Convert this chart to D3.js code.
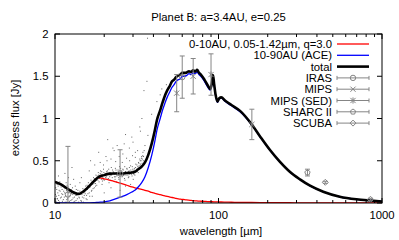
<!DOCTYPE html>
<html><head><meta charset="utf-8">
<script src="https://cdn.jsdelivr.net/npm/d3@7/dist/d3.min.js"></script>
<style>
html,body{margin:0;padding:0;background:#fff;}
svg{display:block;font-family:"Liberation Sans",Arial,Helvetica,sans-serif;}
</style></head>
<body><svg id="c" width="399" height="240"></svg>
<script>
// ---- data ----
const title = "Planet B: a=3.4AU, e=0.25";
const xLabel = "wavelength [\u00b5m]";
const yLabel = "excess flux [Jy]";
const xTicks = [10, 100, 1000];
const yTicks = [0, 0.5, 1, 1.5, 2];
const yTickLabels = ["0", "0.5", "1", "1.5", "2"];

const lam = [10, 11, 12, 13, 13.9, 15, 16, 17.2, 18.4, 20, 21.2, 22.7, 25.6, 27.5, 29.5, 30.8, 32.3, 33.9, 35.5, 37.2, 39, 40.9, 42, 44, 45.5, 47, 48.5, 50.5, 52, 53.5, 55, 56.8, 58.5, 60, 62, 64, 66, 68, 70, 72, 74, 76, 78, 82, 86, 89, 91, 92.5, 94, 96, 98.5, 101, 104, 110, 120, 135.5, 159, 180, 206, 237, 273, 315, 363, 437, 552, 697, 887, 1000];
const fluxInner = [0.25, 0.215, 0.165, 0.125, 0.107, 0.14, 0.19, 0.25, 0.30, 0.285, 0.275, 0.26, 0.23, 0.21, 0.19, 0.18, 0.17, 0.16, 0.15, 0.14, 0.125, 0.115, 0.108, 0.098, 0.09, 0.085, 0.078, 0.07, 0.065, 0.06, 0.055, 0.05, 0.046, 0.043, 0.04, 0.036, 0.033, 0.03, 0.028, 0.026, 0.024, 0.022, 0.021, 0.019, 0.017, 0.016, 0.015, 0.015, 0.014, 0.014, 0.013, 0.012, 0.012, 0.011, 0.009, 0.007, 0.006, 0.005, 0.004, 0.003, 0.003, 0.002, 0.002, 0.001, 0.001, 0.0005, 0.0003, 0.0002];
const fluxACE = [0, 0, 0, 0, 0, 0, 0.001, 0.003, 0.008, 0.014, 0.022, 0.04, 0.075, 0.1, 0.13, 0.15, 0.19, 0.24, 0.31, 0.42, 0.56, 0.74, 0.86, 1.0, 1.1, 1.18, 1.25, 1.32, 1.37, 1.40, 1.44, 1.46, 1.47, 1.5, 1.5, 1.51, 1.53, 1.52, 1.54, 1.53, 1.55, 1.52, 1.50, 1.44, 1.37, 1.335, 1.40, 1.5, 1.40, 1.27, 1.19, 1.23, 1.24, 1.2, 1.15, 1.08, 0.93, 0.78, 0.625, 0.487, 0.367, 0.278, 0.203, 0.133, 0.074, 0.0435, 0.027, 0.018];
const fluxTotal = [0.25, 0.215, 0.165, 0.125, 0.107, 0.14, 0.19, 0.253, 0.305, 0.33, 0.345, 0.35, 0.35, 0.355, 0.36, 0.37, 0.40, 0.43, 0.48, 0.57, 0.70, 0.87, 0.98, 1.10, 1.19, 1.27, 1.33, 1.39, 1.44, 1.46, 1.49, 1.51, 1.52, 1.54, 1.54, 1.545, 1.56, 1.55, 1.57, 1.555, 1.575, 1.54, 1.52, 1.46, 1.39, 1.35, 1.415, 1.515, 1.41, 1.28, 1.20, 1.24, 1.25, 1.21, 1.16, 1.09, 0.935, 0.785, 0.63, 0.49, 0.37, 0.28, 0.205, 0.134, 0.075, 0.044, 0.027, 0.018];

// IRS spectrum samples (wavelength, flux)
const specLam = [10.1,10.2,10.3,10.4,10.5,10.6,10.7,10.8,10.9,11.0,11.1,11.2,11.3,11.4,11.5,11.6,11.7,11.8,11.9,12.0,12.2,12.3,12.5,12.6,12.8,12.9,13.1,13.2,13.4,13.5,13.7,13.9,14.0,14.2,14.4,14.6,14.8,15.0,15.2,15.4,15.6,15.8,16.0,16.2,16.4,16.6,16.8,17.0,17.2,17.4,17.6,17.8,18.0,18.2,18.4,18.6,18.8,19.0,19.2,19.4,19.6,19.8,20.0,20.3,20.6,20.9,21.2,21.5,21.8,22.1,22.4,22.7,23.0,23.3,23.6,23.9,24.2,24.5,24.8,25.1,25.4,25.7,26.0,26.3,26.6,26.9,27.2,27.5,27.8,28.1,28.4,28.7,29.0,29.3,29.6,29.9,30.2,30.5,30.8,31.1,31.4,31.7,32.0,32.3,32.6,32.9,33.2,33.5,33.8,34.1,34.4,34.7,
  11.5,12.7,14.5,16.5,18.5,20.5,21,23,24,26,27,28.5,30,31,33,35.5,37,39,42,44,45,48,20,22,25,27,29,13,10.5,35,36.5,36.8,34,33.3,10.3,11.8,12.4,13.3,14.9,15.7,16.9,19.5,21.7,23.4,24.6,26.2,28.3,30.4,31.9,19.1,22.9,25.9,28.9,17.7,15.3,
  10.05,10.15,10.25,10.35,10.45,10.55,10.65,10.75,10.85,10.95,11.05,11.15,11.25,11.35,11.45,11.55,11.65,11.75,11.85,11.95,12.1,12.25,12.4,12.55,12.7,12.85,13.0,13.15,13.3,13.45,13.6,13.8,13.95,14.1,14.3,14.5,14.7,14.9,
  15.1,15.3,15.5,15.7,15.9,16.1,16.3,16.5,16.7,16.9,17.1,17.3,17.5,17.7,17.9,18.1,
  18.3,18.5,18.7,18.9,19.1,19.3,19.5,19.7,19.9,20.1,20.4,20.7,21.0,21.3,21.6,21.9,22.2,22.5,22.8,23.1,23.4,23.7,24.0,24.3,24.6,24.9,25.2,25.5,25.8,26.1,26.4,26.7,27.0,27.3,27.6,27.9,28.2,28.5,28.8,29.1,29.4,29.7,30.0,30.3,30.6,30.9,31.2,31.5,31.8,32.1,32.4,32.7,33.0,33.3,33.6,33.9,34.2,34.5,34.8,35.1,
  18.9,19.8,20.8,22.0,23.5,24.7,25.8,27.4,28.6,29.8,31.0,32.0,19.4,21.4,23.8,26.8,30.1,22.6,26.5,29.5,17.5,16.2,14.2,12.1];
const specFlux = [0.18,0.08,0.22,0.12,0.03,0.15,0.25,0.06,0.19,0.11,0.02,0.21,0.14,0.07,0.17,0.09,0.24,0.04,0.13,0.19,0.08,0.15,0.03,0.11,0.18,0.06,0.13,0.02,0.09,0.16,0.05,0.12,0.07,0.14,0.03,0.10,0.17,0.06,0.13,0.20,0.09,0.16,0.24,0.12,0.19,0.27,0.15,0.22,0.30,0.18,0.26,0.33,0.21,0.29,0.36,0.25,0.31,0.38,0.28,0.34,0.30,0.40,0.27,0.35,0.31,0.38,0.29,0.36,0.33,0.42,0.30,0.37,0.34,0.28,0.39,0.32,0.36,0.30,0.43,0.34,0.38,0.31,0.40,0.35,0.29,0.37,0.33,0.41,0.36,0.30,0.38,0.34,0.44,0.37,0.32,0.40,0.35,0.39,0.33,0.42,0.37,0.45,0.40,0.36,0.47,0.42,0.50,0.44,0.53,0.47,0.56,0.50,
  0.35,0.42,0.30,0.50,0.60,0.55,0.75,0.62,0.68,0.58,0.81,0.65,0.72,0.60,0.90,0.68,0.80,1.05,1.20,1.28,1.35,1.40,0.12,0.18,0.15,0.20,0.22,0.28,0.32,1.33,1.44,1.95,1.00,0.85,0.05,0.01,0.22,0.20,0.01,0.04,0.08,0.26,0.27,0.31,0.28,0.33,0.31,0.34,0.38,0.33,0.36,0.32,0.35,0.23,0.11,
  0.10,0.02,0.16,0.05,0.20,0.09,0.01,0.14,0.23,0.07,0.16,0.10,0.04,0.19,0.12,0.01,0.08,0.15,0.21,0.05,0.12,0.02,0.09,0.16,0.04,0.10,0.01,0.07,0.12,0.03,0.09,0.15,0.01,0.06,0.11,0.02,0.07,0.12,
  0.09,0.17,0.05,0.21,0.11,0.18,0.08,0.22,0.14,0.25,0.17,0.23,0.29,0.20,0.27,0.32,
  0.27,0.33,0.29,0.35,0.31,0.37,0.32,0.28,0.36,0.33,0.30,0.37,0.34,0.40,0.31,0.36,0.33,0.39,0.35,0.31,0.41,0.36,0.33,0.39,0.35,0.32,0.41,0.36,0.34,0.39,0.33,0.43,0.37,0.35,0.40,0.33,0.37,0.42,0.36,0.39,0.34,0.43,0.38,0.36,0.41,0.37,0.46,0.40,0.38,0.43,0.48,0.44,0.52,0.46,0.50,0.55,0.52,0.60,0.55,0.62,
  0.48,0.45,0.50,0.52,0.49,0.55,0.48,0.53,0.50,0.56,0.54,0.62,0.22,0.24,0.25,0.27,0.28,0.65,0.70,0.78,0.45,0.38,0.24,0.30];

// photometry: [wavelength, flux, error]
const iras = [[12, 0.10, 0.57], [25, 0.35, 0.28], [60, 1.49, 0.25]];
const mips = [[70, 1.50, 0.21], [160, 0.93, 0.18]];
const mipsSed = [[55.5, 1.30, 0.22], [90, 1.52, 0.245]];
const sharc = [[350, 0.36, 0.04]];
const scuba = [[450, 0.245, 0.012], [850, 0.044, 0.012]];

const legendLabels = ["0-10AU, 0.05-1.42\u00b5m, q=3.0", "10-90AU (ACE)", "total", "IRAS", "MIPS", "MIPS (SED)", "SHARC II", "SCUBA"];

// ---- drawing ----
const svg = d3.select("#c");
const L = 55, R = 382, T = 34, B = 203;
const x = d3.scaleLog().domain([10, 1000]).range([L, R]);
const y = d3.scaleLinear().domain([0, 2]).range([B, T]);
const FS = "11.3px";
const grey = "#858585";

svg.append("defs").append("clipPath").attr("id", "clip")
  .append("rect").attr("x", L).attr("y", T).attr("width", R - L).attr("height", B - T);

// title
svg.append("text").attr("x", (L + R) / 2).attr("y", 20.7).attr("text-anchor", "middle")
  .style("font-size", FS).text(title);

const plot = svg.append("g").attr("clip-path", "url(#clip)");

// spectrum dots
plot.append("g").selectAll("rect").data(specLam.map((l, i) => [l, specFlux[i]])).join("rect")
  .attr("x", d => x(d[0]) - 0.5).attr("y", d => y(d[1]) - 0.5)
  .attr("width", 1).attr("height", 1).attr("fill", "#333").attr("opacity", 0.75);

// curves
const line = vals => d3.line().x((d, i) => x(lam[i])).y(d => y(d)).curve(d3.curveMonotoneX)(vals);
plot.append("path").attr("d", line(fluxInner)).attr("fill", "none").attr("stroke", "#ff0000").attr("stroke-width", 1.3);
plot.append("path").attr("d", line(fluxACE)).attr("fill", "none").attr("stroke", "#0000ff").attr("stroke-width", 1.3);
plot.append("path").attr("d", line(fluxTotal)).attr("fill", "none").attr("stroke", "#000").attr("stroke-width", 2.6).attr("stroke-linejoin", "round");

// markers
function marker(g, type, cx, cy) {
  const s = 2.6;
  if (type === "circle") g.append("circle").attr("cx", cx).attr("cy", cy).attr("r", 2.7).attr("fill", "none").attr("stroke", grey);
  if (type === "x" || type === "star") {
    g.append("path").attr("d", `M${cx - s},${cy - s}L${cx + s},${cy + s}M${cx - s},${cy + s}L${cx + s},${cy - s}`).attr("stroke", grey);
  }
  if (type === "star") g.append("path").attr("d", `M${cx},${cy - s - 0.5}V${cy + s + 0.5}`).attr("stroke", grey);
  if (type === "pent") {
    const pts = d3.range(5).map(k => { const a = -Math.PI / 2 + k * 2 * Math.PI / 5; return [cx + 2.8 * Math.cos(a), cy + 2.8 * Math.sin(a)]; });
    g.append("polygon").attr("points", pts.map(p => p.join(",")).join(" ")).attr("fill", "none").attr("stroke", grey);
  }
  if (type === "diamond") g.append("path").attr("d", `M${cx},${cy - 3}L${cx + 3},${cy}L${cx},${cy + 3}L${cx - 3},${cy}Z`).attr("fill", "none").attr("stroke", grey);
}
function errSet(data, type) {
  const g = plot.append("g").attr("stroke-width", 1);
  data.forEach(d => {
    const cx = x(d[0]), y1 = y(d[1] + d[2]), y2 = y(d[1] - d[2]);
    g.append("path").attr("d", `M${cx},${y1}V${y2}M${cx - 2.5},${y1}H${cx + 2.5}M${cx - 2.5},${y2}H${cx + 2.5}`).attr("stroke", grey);
    marker(g, type, cx, y(d[1]));
  });
}
errSet(iras, "circle");
errSet(mips, "x");
errSet(mipsSed, "star");
errSet(sharc, "pent");
errSet(scuba, "diamond");

// border
svg.append("rect").attr("x", L).attr("y", T).attr("width", R - L).attr("height", B - T)
  .attr("fill", "none").attr("stroke", "#000").attr("stroke-width", 1);

// ticks
const tg = svg.append("g").attr("stroke", "#000").attr("stroke-width", 1);
const minor = [];
[10, 100].forEach(dec => { for (let k = 2; k <= 9; k++) minor.push(dec * k); });
minor.forEach(v => {
  tg.append("path").attr("d", `M${x(v)},${B}v-3M${x(v)},${T}v3`);
});
xTicks.forEach(v => tg.append("path").attr("d", `M${x(v)},${B}v-5M${x(v)},${T}v5`));
yTicks.forEach(v => tg.append("path").attr("d", `M${L},${y(v)}h5M${R},${y(v)}h-5`));

// tick labels
xTicks.forEach(v => svg.append("text").attr("x", x(v)).attr("y", 219).attr("text-anchor", "middle").style("font-size", FS).text(String(v)));
yTicks.forEach((v, i) => svg.append("text").attr("x", 48.5).attr("y", y(v) + 4).attr("text-anchor", "end").style("font-size", FS).text(yTickLabels[i]));

// axis labels
svg.append("text").attr("x", 221).attr("y", 235).attr("text-anchor", "middle").style("font-size", FS).text(xLabel);
svg.append("text").attr("transform", "translate(19,118) rotate(-90)").attr("text-anchor", "middle").style("font-size", FS).text(yLabel);

// legend
const lgY0 = 44, lgDy = 11.3, lgTx = 332, lgX1 = 337, lgX2 = 369;
const lg = svg.append("g");
legendLabels.forEach((t, i) => {
  const yy = lgY0 + i * lgDy;
  lg.append("text").attr("x", lgTx).attr("y", yy + 4).attr("text-anchor", "end").style("font-size", FS).text(t);
  if (i === 0) lg.append("path").attr("d", `M${lgX1},${yy}H${lgX2}`).attr("stroke", "#ff0000").attr("stroke-width", 1.3);
  else if (i === 1) lg.append("path").attr("d", `M${lgX1},${yy}H${lgX2}`).attr("stroke", "#0000ff").attr("stroke-width", 1.3);
  else if (i === 2) lg.append("path").attr("d", `M${lgX1},${yy}H${lgX2}`).attr("stroke", "#000").attr("stroke-width", 2.6);
  else {
    lg.append("path").attr("d", `M${lgX1},${yy}H${lgX2}M${lgX1},${yy - 2}V${yy + 2}M${lgX2},${yy - 2}V${yy + 2}`).attr("stroke", grey);
    marker(lg, ["circle", "x", "star", "pent", "diamond"][i - 3], (lgX1 + lgX2) / 2, yy);
  }
});
</script></body></html>
